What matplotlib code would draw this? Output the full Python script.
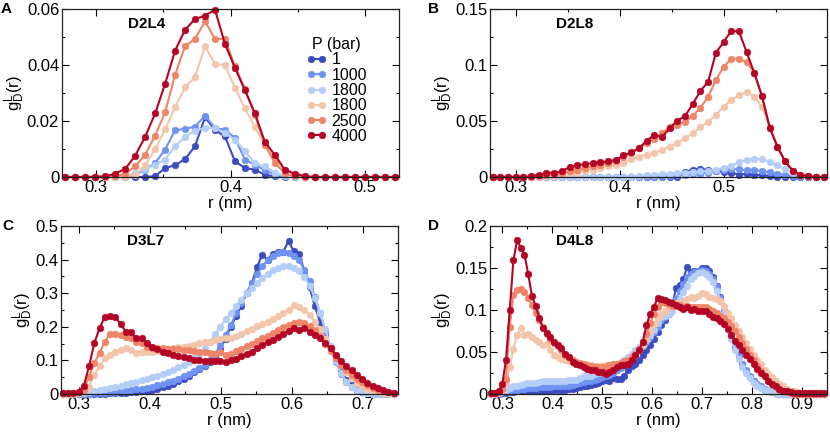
import numpy as np
import matplotlib
matplotlib.use('Agg')
import matplotlib.pyplot as plt
from matplotlib.ticker import MultipleLocator, FuncFormatter

plt.rcParams['font.family'] = ['Liberation Sans', 'DejaVu Sans']
plt.rcParams['mathtext.fontset'] = 'custom'
plt.rcParams['mathtext.rm'] = 'Liberation Sans'
plt.rcParams['mathtext.it'] = 'Liberation Sans:italic'

PRESSURES = ['1', '1000', '1800', '1800', '2500', '4000']
COLORS = ['#3b4cc0', '#7093f3', '#b5cef8', '#f3c5ab', '#ee8468', '#b40426']

# histogram bins (nm): centre of bin k is (k + 0.5) * BIN
BIN = 0.0074
r_a = (np.arange(37, 71) + 0.5) * BIN
r_b = (np.arange(37, 81) + 0.5) * BIN
r_c = (np.arange(37, 101) + 0.5) * BIN
r_d = (np.arange(37, 128) + 0.5) * BIN

# --- D2L4 ---
a_1 = [0]*9 + [0.0003, 0.0032, 0.0042, 0.0064, 0.0110, 0.0213, 0.0168, 0.0145, 0.0056,
               0.0032, 0.0026, 0.0008, 0.0002] + [0]*12
a_1000 = [0]*7 + [0.0010, 0.0025, 0.0050, 0.0098, 0.0167, 0.0172, 0.0180, 0.0219, 0.0175,
                  0.0169, 0.0139, 0.0062, 0.0044, 0.0024, 0.0008, 0.0002] + [0]*11
a_1800a = [0]*6 + [0.0005, 0.0015, 0.0028, 0.0044, 0.0062, 0.0110, 0.0143, 0.0165, 0.0175,
                   0.0175, 0.0157, 0.0133, 0.0092, 0.0050, 0.0038, 0.0014, 0.0005, 0.0001] + [0]*10
a_1800b = [0]*6 + [0.0001, 0.0008, 0.0042, 0.0100, 0.0170, 0.0250, 0.0320, 0.0357, 0.0467,
                   0.0403, 0.0400, 0.0318, 0.0245, 0.0178, 0.0115, 0.0065, 0.0025, 0.0006] + [0]*10
a_2500 = [0]*5 + [0.0002, 0.0012, 0.0038, 0.0080, 0.0148, 0.0231, 0.0365, 0.0467, 0.0493,
                  0.0556, 0.0493, 0.0493, 0.0395, 0.0314, 0.0223, 0.0115, 0.0050, 0.0014,
                  0.0002] + [0]*10
a_4000 = [0, 0, 0, 0.0001, 0.0002, 0.0012, 0.0029, 0.0076, 0.0144, 0.0227, 0.0333, 0.0451,
          0.0526, 0.0564, 0.0576, 0.0598, 0.0475, 0.0390, 0.0310, 0.0227, 0.0125, 0.0079,
          0.0026, 0.0012, 0.0003] + [0]*9

# --- D2L8 ---
b_1 = [0]*25 + [0.0045, 0.0065, 0.0072, 0.0064, 0.0056, 0.0042, 0.0038, 0.0022, 0.0030,
                0.0015, 0.0020, 0.0006, 0.0002] + [0]*6
b_1000 = [0]*23 + [0.0010, 0.0015, 0.0020, 0.0025, 0.0030, 0.0040, 0.0055, 0.0065, 0.0072,
                   0.0068, 0.0060, 0.0065, 0.0050, 0.0042, 0.0030, 0.0018, 0.0008,
                   0.0003] + [0]*3
b_1800a = [0.0003]*19 + [0.0010, 0.0015, 0.0020, 0.0025, 0.0030, 0.0035, 0.0040, 0.0045,
                         0.0050, 0.0055, 0.0065, 0.0080, 0.0100, 0.0130, 0.0155, 0.0165,
                         0.0158, 0.0135, 0.0105, 0.0070, 0.0038, 0.0015, 0.0005] + [0]*2
b_1800b = [0]*7 + [0.0006, 0.0012, 0.0024, 0.0036, 0.0040, 0.0056, 0.0065, 0.0080, 0.0095,
                   0.0104, 0.0124, 0.0160, 0.0183, 0.0198, 0.0213, 0.0243, 0.0272, 0.0302,
                   0.0346, 0.0390, 0.0444, 0.0494, 0.0553, 0.0627, 0.0686, 0.0731, 0.0760,
                   0.0716, 0.0627, 0.0450, 0.0272, 0.0139, 0.0056, 0.0021, 0.0006] + [0]*2
b_2500 = [0]*6 + [0.0006, 0.0015, 0.0024, 0.0036, 0.0050, 0.0065, 0.0080, 0.0095, 0.0110,
                  0.0124, 0.0139, 0.0178, 0.0213, 0.0257, 0.0302, 0.0337, 0.0390, 0.0450,
                  0.0464, 0.0494, 0.0544, 0.0618, 0.0716, 0.0864, 0.0982, 0.1056, 0.1056,
                  0.1027, 0.0929, 0.0722, 0.0441, 0.0272, 0.0139, 0.0056, 0.0021,
                  0.0006] + [0]*2
b_4000 = [0]*5 + [0.0006, 0.0020, 0.0036, 0.0040, 0.0050, 0.0089, 0.0104, 0.0115, 0.0124,
                  0.0133, 0.0139, 0.0154, 0.0192, 0.0219, 0.0257, 0.0322, 0.0376, 0.0355,
                  0.0435, 0.0503, 0.0544, 0.0651, 0.0769, 0.0849, 0.1107, 0.1204, 0.1302,
                  0.1302, 0.1115, 0.0929, 0.0722, 0.0441, 0.0272, 0.0139, 0.0056, 0.0021,
                  0.0006] + [0]*2

# --- D3L7 ---
c_1 = [0, 0, 0, 0, 0, 0, 0, 0.001, 0.001, 0.002, 0.002, 0.003, 0.004, 0.005, 0.006, 0.008,
       0.010, 0.013, 0.016, 0.020, 0.025, 0.031, 0.038, 0.046, 0.055, 0.064, 0.074, 0.084,
       0.095, 0.110, 0.135, 0.165,
       0.200, 0.232, 0.262, 0.300, 0.330, 0.378, 0.415, 0.400, 0.418, 0.424, 0.424, 0.455,
       0.425, 0.418, 0.366, 0.319, 0.262, 0.215, 0.175, 0.135, 0.100, 0.068, 0.043, 0.026,
       0.014, 0.007, 0.003, 0.001, 0, 0, 0, 0]
c_1000 = [0, 0, 0, 0, 0.001, 0.001, 0.002, 0.003, 0.004, 0.005, 0.006, 0.008, 0.010, 0.012,
          0.014, 0.016, 0.019, 0.022, 0.026, 0.030, 0.035, 0.040, 0.046, 0.053, 0.060, 0.068,
          0.077, 0.087, 0.100, 0.118, 0.145, 0.175,
          0.205, 0.240, 0.272, 0.300, 0.330, 0.356, 0.380, 0.398, 0.412, 0.420, 0.422, 0.420,
          0.412, 0.398, 0.370, 0.335, 0.290, 0.240, 0.188, 0.138, 0.095, 0.060, 0.036, 0.020,
          0.010, 0.005, 0.002, 0.001, 0, 0, 0, 0]
c_1800a = [0, 0, 0.001, 0.002, 0.004, 0.006, 0.009, 0.012, 0.015, 0.018, 0.021, 0.025, 0.029,
           0.033, 0.037, 0.041, 0.045, 0.050, 0.055, 0.060, 0.066, 0.072, 0.079, 0.087, 0.096,
           0.107, 0.120, 0.136, 0.155, 0.178, 0.200, 0.222,
           0.241, 0.261, 0.281, 0.300, 0.316, 0.330, 0.345, 0.358, 0.370, 0.376, 0.380, 0.380,
           0.376, 0.366, 0.348, 0.322, 0.287, 0.242, 0.194, 0.144, 0.098, 0.062, 0.037, 0.021,
           0.011, 0.005, 0.002, 0.001, 0, 0, 0, 0]
c_1800b = [0, 0, 0, 0.002, 0.008, 0.022, 0.057, 0.082, 0.107, 0.117, 0.126, 0.131, 0.136,
           0.131, 0.122, 0.126, 0.124, 0.126, 0.129, 0.131, 0.133, 0.136, 0.139, 0.141, 0.144,
           0.146, 0.151, 0.154, 0.156, 0.161, 0.163, 0.166,
           0.168, 0.173, 0.180, 0.187, 0.194, 0.201, 0.208, 0.215, 0.222, 0.232, 0.242, 0.250,
           0.265, 0.258, 0.250, 0.235, 0.215, 0.192, 0.165, 0.138, 0.110, 0.085, 0.064, 0.047,
           0.034, 0.024, 0.016, 0.010, 0.006, 0.004, 0.002, 0.001]
c_2500 = [0.002, 0.002, 0.003, 0.005, 0.012, 0.052, 0.092, 0.122, 0.156, 0.179, 0.179, 0.176,
          0.171, 0.166, 0.156, 0.151, 0.141, 0.138, 0.138, 0.136, 0.133, 0.133, 0.133, 0.131,
          0.131, 0.129, 0.126, 0.124, 0.122, 0.120, 0.124, 0.117,
          0.118, 0.128, 0.135, 0.142, 0.150, 0.158, 0.166, 0.174, 0.182, 0.190, 0.198, 0.205,
          0.212, 0.213, 0.210, 0.203, 0.190, 0.172, 0.150, 0.128, 0.106, 0.087, 0.071, 0.057,
          0.045, 0.035, 0.026, 0.018, 0.012, 0.008, 0.005, 0.003]
c_4000 = [0.004, 0.004, 0.004, 0.007, 0.024, 0.082, 0.151, 0.196, 0.229, 0.231, 0.229, 0.208,
          0.186, 0.184, 0.166, 0.166, 0.151, 0.141, 0.133, 0.126, 0.122, 0.117, 0.114, 0.109,
          0.107, 0.102, 0.100, 0.099, 0.099, 0.098, 0.099, 0.096,
          0.100, 0.105, 0.112, 0.120, 0.126, 0.136, 0.146, 0.154, 0.161, 0.171, 0.179, 0.188,
          0.196, 0.191, 0.196, 0.186, 0.176, 0.166, 0.151, 0.136, 0.117, 0.097, 0.082, 0.070,
          0.057, 0.045, 0.034, 0.025, 0.017, 0.012, 0.007, 0.004]

# --- D4L8 ---
d_1 = [0, 0, 0, 0.001, 0.001, 0.002, 0.002, 0.003, 0.003, 0.003, 0.003, 0.004, 0.004, 0.004,
       0.004, 0.004, 0.004, 0.005, 0.005, 0.005, 0.005, 0.006, 0.006, 0.007, 0.008, 0.009,
       0.010, 0.011, 0.012, 0.013, 0.015, 0.017, 0.016, 0.019, 0.018, 0.018, 0.022, 0.028,
       0.033, 0.036, 0.040, 0.046, 0.052, 0.058, 0.066, 0.074,
       0.082, 0.088, 0.095, 0.105, 0.126, 0.130, 0.137, 0.151, 0.145, 0.146, 0.146, 0.150,
       0.150, 0.147, 0.139, 0.129, 0.115, 0.099, 0.084, 0.068, 0.056, 0.046, 0.036, 0.027,
       0.020, 0.015, 0.011, 0.008, 0.005, 0.003, 0.002, 0.001] + [0]*13
d_1000 = [0, 0, 0.001, 0.002, 0.003, 0.004, 0.005, 0.005, 0.006, 0.006, 0.007, 0.007, 0.007,
          0.008, 0.008, 0.008, 0.008, 0.009, 0.009, 0.009, 0.010, 0.010, 0.011, 0.012, 0.013,
          0.014, 0.015, 0.016, 0.017, 0.018, 0.020, 0.021, 0.023, 0.025, 0.028, 0.031, 0.034,
          0.038, 0.042, 0.047, 0.052, 0.057, 0.062, 0.068, 0.074, 0.080,
          0.088, 0.092, 0.097, 0.103, 0.113, 0.123, 0.131, 0.139, 0.143, 0.145, 0.147, 0.148,
          0.146, 0.143, 0.137, 0.127, 0.114, 0.099, 0.084, 0.069, 0.056, 0.045, 0.036, 0.028,
          0.021, 0.016, 0.012, 0.009, 0.006, 0.004, 0.003, 0.002, 0.001] + [0]*12
d_1800a = [0, 0.001, 0.002, 0.004, 0.005, 0.007, 0.009, 0.009, 0.011, 0.012, 0.013, 0.013,
           0.013, 0.014, 0.015, 0.015, 0.015, 0.016, 0.016, 0.016, 0.016, 0.017, 0.017, 0.017,
           0.019, 0.021, 0.021, 0.022, 0.024, 0.025, 0.026, 0.028, 0.030, 0.032, 0.035, 0.038,
           0.041, 0.044, 0.048, 0.052, 0.056, 0.060, 0.064, 0.070, 0.076, 0.084,
           0.092, 0.093, 0.095, 0.099, 0.105, 0.113, 0.121, 0.129, 0.137, 0.141, 0.144, 0.145,
           0.143, 0.139, 0.133, 0.123, 0.111, 0.097, 0.082, 0.066, 0.052, 0.042, 0.032, 0.025,
           0.019, 0.013, 0.009, 0.007, 0.005, 0.003, 0.002, 0.001] + [0]*13
d_1800b = [0, 0, 0.001, 0.004, 0.013, 0.032, 0.054, 0.070, 0.078, 0.070, 0.072, 0.068, 0.064,
           0.062, 0.058, 0.060, 0.052, 0.046, 0.044, 0.042, 0.040, 0.039, 0.038, 0.037, 0.036,
           0.035, 0.034, 0.034, 0.033, 0.033, 0.033, 0.034, 0.034, 0.035, 0.036, 0.037, 0.038,
           0.040, 0.043, 0.047, 0.052, 0.058, 0.066, 0.075, 0.083, 0.090,
           0.095, 0.099, 0.103, 0.105, 0.108, 0.109, 0.110, 0.113, 0.115, 0.114, 0.117, 0.120,
           0.119, 0.116, 0.114, 0.113, 0.111, 0.105, 0.097, 0.090, 0.082, 0.075, 0.068, 0.061,
           0.054, 0.047, 0.041, 0.036, 0.029, 0.024, 0.020, 0.016, 0.012, 0.009, 0.006, 0.004,
           0.003, 0.002] + [0.001]*7
d_2500 = [0.001, 0.001, 0.002, 0.006, 0.018, 0.080, 0.118, 0.124, 0.125, 0.121, 0.114, 0.106,
          0.096, 0.088, 0.080, 0.072, 0.066, 0.061, 0.057, 0.052, 0.047, 0.044, 0.040, 0.038,
          0.037, 0.036, 0.034, 0.033, 0.032, 0.032, 0.032, 0.032, 0.034, 0.036, 0.036, 0.037,
          0.039, 0.041, 0.044, 0.048, 0.053, 0.062, 0.072, 0.084, 0.095, 0.103,
          0.109, 0.108, 0.107, 0.105, 0.105, 0.106, 0.104, 0.105, 0.103, 0.104, 0.104, 0.103,
          0.103, 0.101, 0.099, 0.097, 0.093, 0.090, 0.086, 0.081, 0.075, 0.068, 0.061, 0.054,
          0.047, 0.040, 0.033, 0.027, 0.021, 0.016, 0.012, 0.008, 0.005, 0.003, 0.002,
          0.001] + [0]*9
d_4000 = [0.0016, 0.0016, 0.003, 0.012, 0.041, 0.100, 0.159, 0.183, 0.174, 0.166, 0.143,
          0.117, 0.105, 0.091, 0.078, 0.073, 0.068, 0.062, 0.058, 0.055, 0.048, 0.044, 0.038,
          0.036, 0.035, 0.032, 0.030, 0.029, 0.028, 0.026, 0.026, 0.024, 0.026, 0.029, 0.032,
          0.034, 0.034, 0.036, 0.041, 0.046, 0.052, 0.062, 0.082, 0.095, 0.103, 0.114,
          0.113, 0.112, 0.110, 0.108, 0.106, 0.103, 0.101, 0.103, 0.100, 0.101, 0.099, 0.099,
          0.099, 0.095, 0.092, 0.091, 0.087, 0.083, 0.077, 0.070, 0.063, 0.058, 0.052, 0.047,
          0.042, 0.036, 0.030, 0.025, 0.021, 0.016, 0.012, 0.009, 0.006, 0.004, 0.003,
          0.002] + [0.0016]*9

panels = [
    ('A', 'D2L4', r_a, [a_1, a_1000, a_1800a, a_1800b, a_2500, a_4000],
     (0.275, 0.525), (0, 0.06), 0.02, 0.01),
    ('B', 'D2L8', r_b, [b_1, b_1000, b_1800a, b_1800b, b_2500, b_4000],
     (0.275, 0.599), (0, 0.15), 0.05, 0.025),
    ('C', 'D3L7', r_c, [c_1, c_1000, c_1800a, c_1800b, c_2500, c_4000],
     (0.275, 0.75), (0, 0.5), 0.1, 0.05),
    ('D', 'D4L8', r_d, [d_1, d_1000, d_1800a, d_1800b, d_2500, d_4000],
     (0.275, 0.95), (0, 0.2), 0.05, 0.025),
]

W, H = 830, 432
boxes = [(62, 9, 399, 177), (490, 9, 827, 177), (61, 226, 398, 394), (490, 226, 827, 394)]
letter_pos = [(1, 2), (428, 2), (2, 219), (428, 219)]

fig = plt.figure(figsize=(W / 100, H / 100), dpi=100)
axes = []
for (letter, name, r, series, xlim, ylim, ymaj, ymin), box, lp in zip(panels, boxes, letter_pos):
    x0, y0, x1, y1 = box
    ax = fig.add_axes([x0 / W, 1 - y1 / H, (x1 - x0) / W, (y1 - y0) / H])
    for y, color, label in zip(series, COLORS, PRESSURES):
        ax.plot(r, y, '-o', color=color, lw=1.5, ms=4.8, mew=0.4, label=label, clip_on=False)
    ax.set_xlim(*xlim)
    ax.set_ylim(*ylim)
    ax.xaxis.set_major_locator(MultipleLocator(0.1))
    ax.xaxis.set_minor_locator(MultipleLocator(0.05))
    ax.yaxis.set_major_locator(MultipleLocator(ymaj))
    ax.yaxis.set_minor_locator(MultipleLocator(ymin))
    ax.yaxis.set_major_formatter(FuncFormatter(lambda v, p: f'{v:g}'))
    ax.xaxis.set_major_formatter(FuncFormatter(lambda v, p: f'{v:g}'))
    ax.tick_params(which='both', direction='in', top=True, right=True, width=0.8,
                   labelsize=12, pad=2)
    ax.tick_params(which='major', length=5)
    ax.tick_params(which='minor', length=2.5)
    for s in ax.spines.values():
        s.set_linewidth(0.9)
        s.set_color('#222222')
    ax.set_xlabel('r (nm)', fontsize=12, labelpad=1)
    ax.set_ylabel(r'g$_\mathregular{D}^\mathregular{L}$(r)', fontsize=12, labelpad=0)
    ax.text(0.25, 0.91, name, transform=ax.transAxes, ha='center', va='center',
            fontsize=11, fontweight='bold')
    fig.text(lp[0] / W, 1 - lp[1] / H, letter, ha='left', va='top',
             fontsize=11, fontweight='bold')
    axes.append(ax)

leg = axes[0].legend(title='P (bar)', loc='upper left', bbox_to_anchor=(0.70, 0.88),
                     frameon=False, fontsize=11.5, title_fontsize=11.5, numpoints=2,
                     handlelength=1.3, handletextpad=0.3, labelspacing=0.02, borderpad=0)

fig.savefig('out.png', dpi=100)
